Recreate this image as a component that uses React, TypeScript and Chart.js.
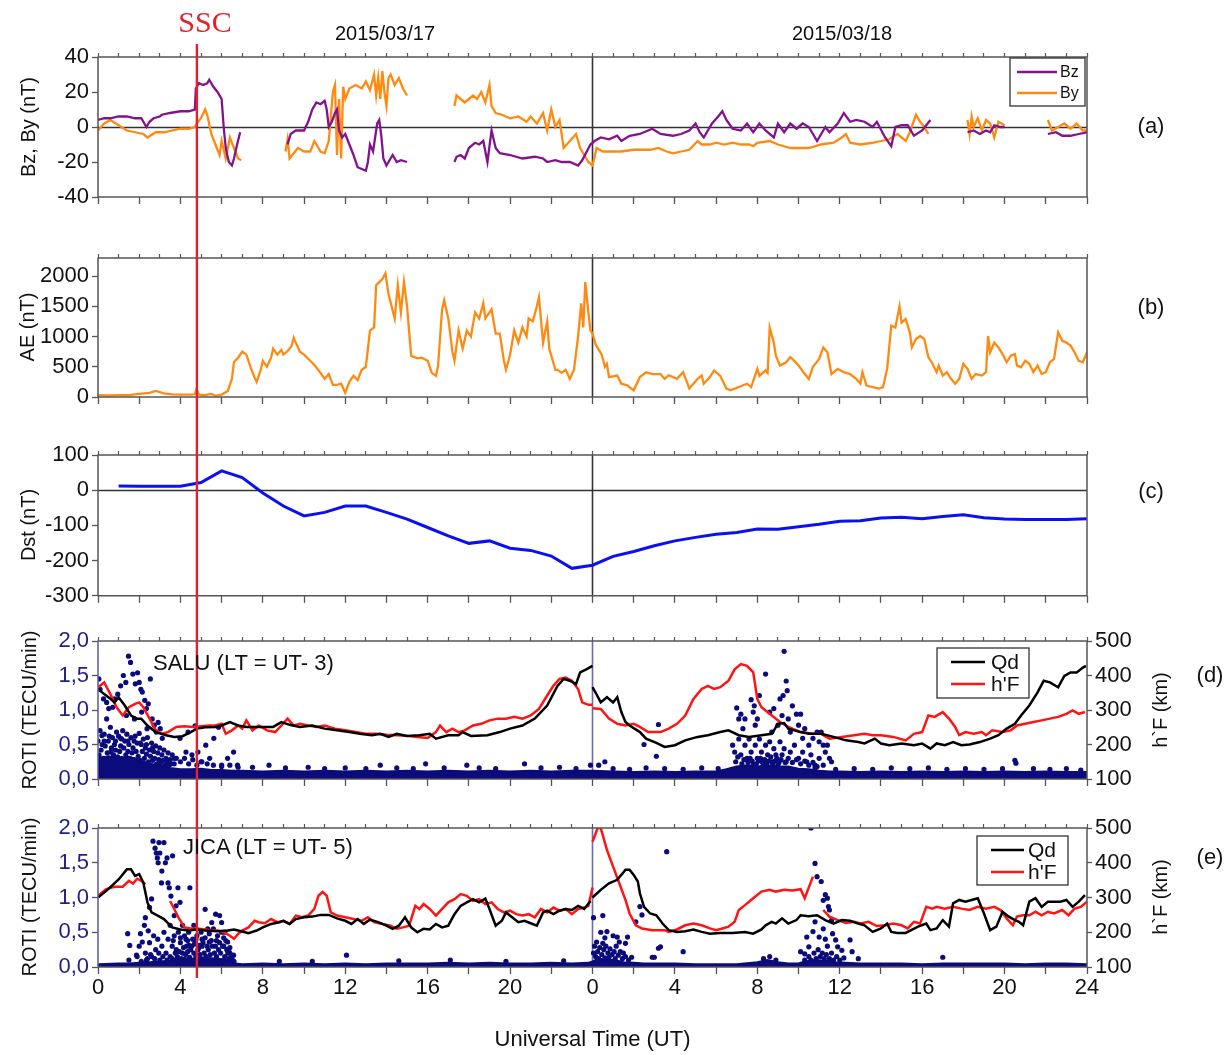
import React, { useEffect, useRef } from 'react';
import { Chart, registerables } from 'chart.js';

Chart.register(...registerables);

type P = [number, number | null];

const FONT = "'Liberation Sans', Arial, Helvetica, sans-serif";
Chart.defaults.font.family = FONT;

// ---------------- axis ticks / labels ----------------
const TOP_TICKS = Array.from({ length: 49 }, (_, i) => i);
const BOTTOM_TICKS = Array.from({ length: 25 }, (_, i) => i * 2);
const BZ_TICKS = [-40, -20, 0, 20, 40];
const AE_TICKS = [0, 500, 1000, 1500, 2000];
const DST_TICKS = [-300, -200, -100, 0, 100];
const ROTI_TICKS = [0, 0.5, 1, 1.5, 2];
const HF_TICKS = [100, 200, 300, 400, 500];
const DAY_SPLIT = 24;
const SSC_HOUR = 4.8;
const DATES = ['2015/03/17', '2015/03/18'];
const X_TITLE = 'Universal Time (UT)';

// ---------------- (a) IMF Bz, By (nT) ----------------
const BZ: P[] = [
  [0, 4], [0.3, 5], [0.6, 5], [1.0, 6], [1.4, 6], [1.8, 5], [2.1, 5], [2.35, 0], [2.5, 3], [2.7, 5], [3.0, 6], [3.1, 7], [3.5, 8], [4.0, 9], [4.4, 9], [4.7, 10],
  [4.75, 22], [4.9, 25], [5.1, 24], [5.3, 25], [5.4, 27], [5.6, 23], [5.8, 20], [6.0, 16], [6.1, 0], [6.2, -12], [6.35, -20], [6.5, -22], [6.6, -18], [6.75, -10], [6.9, -3],
  [7.5, null],
  [9.2, -10], [9.35, -4], [9.6, -2], [10.0, -2], [10.2, 3], [10.4, 10], [10.6, 14], [10.8, 13], [11.0, 15], [11.1, 10], [11.2, 0], [11.35, 3], [11.5, 8], [11.6, 10], [11.7, -2], [11.85, -6],
  [12.0, -4], [12.2, -10], [12.4, -16], [12.6, -23], [12.8, -24], [13.0, -25], [13.1, -20], [13.2, -10], [13.35, -14], [13.55, 2], [13.65, 4], [13.75, -5], [13.85, -18], [14.0, -22],
  [14.2, -18], [14.3, -16], [14.5, -20], [14.7, -19], [15.0, -20],
  [16.0, null],
  [17.3, -20], [17.4, -17], [17.6, -16], [17.8, -18], [18.0, -12], [18.3, -9], [18.5, -10], [18.7, -8], [18.9, -20], [19.1, -2], [19.3, -12], [19.5, -15], [20.0, -16], [20.6, -18],
  [21.2, -17], [21.6, -18], [21.8, -20], [22.2, -19], [22.5, -20], [22.9, -20], [23.3, -22], [23.5, -19], [23.9, -10], [24.1, -8],
  [24.4, -6], [24.8, -7], [25.2, -5], [25.4, -8], [25.8, -5], [26.3, -4], [26.9, -1], [27.3, -4], [27.9, -5], [28.3, -4], [28.7, -2], [29.0, 2], [29.2, -3], [29.4, -6], [29.8, 2],
  [30.1, 6], [30.3, 9], [30.5, 4], [30.8, -1], [31.2, -2], [31.5, 2], [31.8, -3], [32.1, 2], [32.4, -2], [32.8, -6], [33.0, 2], [33.3, -3], [33.6, 2], [33.9, -1], [34.2, 2], [34.5, 0],
  [34.9, -8], [35.3, 0], [35.5, -3], [35.9, 2], [36.2, 8], [36.5, 3], [36.8, 4], [37.2, 3], [37.6, 0], [37.8, 3], [38.2, -6], [38.5, -11], [38.7, 0], [39.0, 1], [39.3, 1], [39.6, -5],
  [40.0, -2], [40.2, 1], [40.4, 4],
  [41.0, null],
  [42.2, -3], [42.5, -2], [42.8, -4], [43.1, -2], [43.3, -3], [43.5, 1], [43.8, 0], [44.0, 0],
  [45.0, null],
  [46.1, -4], [46.5, -3], [46.8, -5], [47.2, -5], [47.6, -4], [48, -3],
];

const BY: P[] = [
  [0, -2], [0.3, 2], [0.6, 4], [1.0, 1], [1.4, -2], [1.8, -3], [2.2, -4], [2.4, -6], [2.8, -3], [3.2, -3], [3.6, -2], [4.0, -1], [4.4, -1], [4.7, 0], [4.8, 2], [5.0, 5], [5.2, 10],
  [5.3, 7], [5.5, -4], [5.7, -10], [5.9, -16], [6.0, -8], [6.2, -18], [6.4, -6], [6.6, -12], [6.8, -18], [6.95, -19],
  [7.5, null],
  [9.1, -14], [9.2, -7], [9.3, -18], [9.5, -15], [9.7, -12], [10.0, -14], [10.3, -14], [10.5, -8], [10.8, -14], [11.0, -15], [11.2, -8], [11.4, 20], [11.5, 24], [11.6, -16], [11.7, 16],
  [11.8, -18], [11.9, 23], [12.0, 16], [12.2, 22], [12.5, 24], [12.8, 22], [13.0, 26], [13.2, 21], [13.4, 30], [13.5, 18], [13.6, 28], [13.7, 16], [13.8, 32], [13.9, 20], [14.0, 12],
  [14.1, 28], [14.2, 30], [14.4, 24], [14.6, 28], [14.8, 22], [15.0, 18],
  [16.0, null],
  [17.3, 12], [17.4, 18], [17.6, 16], [17.8, 14], [18.0, 16], [18.2, 18], [18.4, 16], [18.6, 20], [18.8, 14], [19.0, 24], [19.1, 12], [19.3, 8], [19.6, 7], [20.0, 5], [20.4, 6],
  [20.8, 3], [21.0, 6], [21.3, 2], [21.6, 8], [21.8, -2], [22.0, 10], [22.2, 0], [22.4, 4], [22.6, -12], [22.9, -8], [23.2, -4], [23.4, -12], [23.6, -16], [23.8, -20], [24.0, -22],
  [24.2, -12], [24.5, -14], [24.8, -14], [25.4, -14], [26.0, -13], [26.8, -13], [27.2, -12], [27.6, -14], [27.9, -15], [28.3, -14], [28.7, -13], [29.1, -8], [29.3, -10], [29.7, -10],
  [30.0, -9], [30.4, -10], [30.8, -9], [31.2, -10], [31.6, -10], [31.8, -11], [32.0, -9], [32.6, -8], [33.0, -10], [33.6, -12], [34.0, -12], [34.5, -12], [35.1, -10], [35.7, -9],
  [36.1, -6], [36.3, -4], [36.5, -9], [37.0, -10], [37.6, -9], [38.0, -8], [38.4, -7], [38.8, -4], [39.2, -8], [39.4, -3], [39.7, 7], [39.9, 3], [40.1, 0], [40.3, -4],
  [41.0, null],
  [42.2, 4], [42.3, -4], [42.4, 6], [42.5, 0], [42.7, 5], [42.9, -2], [43.1, 4], [43.3, 2], [43.5, -6], [43.7, 3], [44.0, 1],
  [45.0, null],
  [46.1, 4], [46.3, -2], [46.6, 0], [46.9, 2], [47.2, -1], [47.5, 2], [47.8, -2], [48, -2],
];

// ---------------- (b) AE (nT) ----------------
const AE: P[] = [
  [0, 30], [0.5, 25], [1, 30], [1.5, 30], [2, 50], [2.5, 70], [2.8, 100], [3.2, 60], [3.6, 45], [4, 40], [4.5, 40], [4.7, 45], [4.78, 130], [4.9, 40], [5.2, 30], [5.5, 50],
  [5.7, 20], [6.0, 40], [6.3, 100], [6.5, 300], [6.6, 580], [6.8, 650], [7.0, 750], [7.2, 700], [7.4, 500], [7.6, 320], [7.7, 250], [7.9, 450], [8.0, 600], [8.2, 500], [8.4, 650],
  [8.5, 800], [8.7, 700], [8.9, 780], [9.0, 700], [9.2, 760], [9.4, 850], [9.5, 980], [9.6, 900], [9.8, 750], [10.0, 700], [10.3, 600], [10.5, 530], [10.8, 400], [11.0, 300],
  [11.2, 380], [11.4, 200], [11.6, 200], [11.8, 220], [12.0, 70], [12.2, 250], [12.4, 350], [12.6, 280], [12.8, 450], [13.0, 500], [13.2, 1100], [13.4, 1150], [13.5, 1850],
  [13.65, 1900], [13.8, 1950], [13.95, 2050], [14.1, 1700], [14.25, 1500], [14.4, 1300], [14.55, 1850], [14.7, 1400], [14.85, 1900], [15.0, 1500], [15.2, 680], [15.5, 640],
  [15.7, 650], [16.0, 600], [16.2, 400], [16.4, 350], [16.5, 500], [16.7, 1450], [16.8, 1600], [17.0, 1300], [17.2, 750], [17.3, 600], [17.5, 1100], [17.7, 800], [17.9, 1100],
  [18.1, 1000], [18.3, 1400], [18.5, 1300], [18.7, 1550], [18.8, 1300], [19.1, 1450], [19.3, 1050], [19.5, 1050], [19.7, 600], [19.8, 450], [20.0, 700], [20.2, 1100], [20.4, 900],
  [20.6, 1150], [20.8, 1000], [20.9, 1300], [21.1, 1250], [21.3, 1500], [21.4, 1650], [21.6, 900], [21.8, 1250], [21.9, 800], [22.2, 450], [22.3, 450], [22.5, 400], [22.7, 450],
  [22.9, 300], [23.1, 450], [23.3, 1000], [23.45, 1550], [23.55, 1150], [23.65, 1900], [23.8, 1400], [23.9, 1100], [24.0, 1050],
  [24.15, 870], [24.45, 700], [24.6, 500], [24.7, 550], [24.8, 330], [25.2, 355], [25.4, 220], [25.7, 190], [26.0, 110], [26.3, 330], [26.6, 410], [26.9, 380], [27.3, 380],
  [27.5, 300], [27.7, 360], [28.1, 300], [28.4, 410], [28.7, 140], [29.1, 300], [29.3, 355], [29.4, 220], [29.7, 330], [29.9, 440], [30.2, 350], [30.5, 140], [30.7, 110],
  [31.1, 165], [31.5, 220], [31.7, 165], [32.0, 465], [32.1, 350], [32.4, 440], [32.5, 400], [32.6, 1150], [32.8, 900], [32.9, 685], [33.1, 520], [33.4, 575], [33.6, 660],
  [33.7, 630], [34.0, 520], [34.3, 380], [34.5, 300], [34.7, 500], [35.0, 630], [35.2, 820], [35.4, 740], [35.6, 380], [35.9, 465], [36.2, 410], [36.5, 380], [36.8, 300],
  [37.0, 220], [37.1, 410], [37.3, 190], [37.6, 165], [37.9, 140], [38.1, 165], [38.3, 465], [38.5, 1180], [38.7, 1150], [38.9, 1500], [39.0, 1230], [39.2, 1290], [39.4, 1070],
  [39.5, 820], [39.7, 960], [39.9, 1010], [40.1, 960], [40.3, 660], [40.5, 550], [40.7, 410], [40.8, 520], [41.0, 355], [41.2, 410], [41.4, 300], [41.6, 220], [41.8, 300],
  [42.0, 550], [42.2, 465], [42.4, 300], [42.6, 380], [42.9, 355], [43.1, 410], [43.2, 1010], [43.3, 740], [43.5, 900], [43.7, 820], [43.9, 710], [44.1, 575], [44.3, 685],
  [44.5, 710], [44.6, 520], [44.8, 490], [45.0, 600], [45.2, 550], [45.4, 410], [45.6, 520], [45.8, 380], [46.0, 410], [46.2, 575], [46.4, 630], [46.6, 1070], [46.8, 930],
  [47.0, 900], [47.2, 850], [47.4, 740], [47.6, 600], [47.8, 575], [48.0, 740],
];

// ---------------- (c) Dst (nT) ----------------
const DST: P[] = [
  [1, 12], [2, 11], [3, 11], [4, 11], [5, 22], [6, 55], [7, 36], [8, -8], [9, -45], [10, -73], [11, -63], [12, -45], [13, -45], [14, -63], [15, -82], [16, -106], [17, -130],
  [18, -151], [19, -144], [20, -165], [21, -171], [22, -187], [23, -222], [24, -213], [25, -188], [26, -174], [27, -158], [28, -144], [29, -134], [30, -125], [31, -120],
  [32, -110], [33, -111], [34, -104], [35, -97], [36, -88], [37, -87], [38, -79], [39, -77], [40, -81], [41, -75], [42, -70], [43, -78], [44, -82], [45, -83], [46, -83],
  [47, -83], [48, -81],
];

// ---------------- (d) SALU ----------------
const QD_SALU: P[] = [
  [0, 361], [0.3, 346], [0.55, 335], [0.8, 322], [1.0, 337], [1.3, 313], [1.6, 284], [1.9, 275], [2.1, 275], [2.4, 255], [2.8, 236], [3.3, 227], [3.7, 222], [4.1, 224], [4.5, 236],
  [4.8, 246], [5.2, 250], [5.7, 251], [6.0, 255], [6.4, 265], [6.8, 255], [7.2, 251], [7.9, 251], [8.5, 251], [8.9, 265], [9.3, 257], [9.8, 251], [10.4, 255], [11.0, 246],
  [11.6, 241], [12.2, 236], [12.7, 231], [13.3, 227], [13.7, 231], [14.1, 222], [14.5, 231], [15.0, 225], [15.6, 227], [16.1, 231], [16.4, 217], [17.0, 227], [17.5, 227],
  [17.7, 236], [18.1, 225], [18.9, 227], [19.5, 236], [20.0, 246], [20.6, 255], [21.2, 275], [21.8, 313], [22.3, 370], [22.6, 390], [22.9, 385], [23.2, 375], [23.4, 409],
  [23.7, 418], [24.0, 428],
  [24.0, null],
  [24.0, 366], [24.2, 345], [24.4, 322], [24.7, 337], [25.0, 322], [25.2, 337], [25.4, 294], [25.6, 265], [25.8, 255], [26.3, 236], [26.6, 217], [27.1, 205], [27.5, 193],
  [28.0, 198], [28.5, 212], [29.1, 222], [29.6, 227], [30.2, 236], [30.6, 241], [31.1, 227], [31.6, 222], [32.2, 227], [32.7, 231], [33.0, 260], [33.3, 262], [33.5, 246],
  [34.1, 236], [34.5, 231], [35.1, 231], [35.7, 222], [36.3, 212], [36.9, 207], [37.2, 203], [37.7, 217], [38.0, 203], [38.4, 198], [39.0, 203], [39.6, 198], [40.0, 203],
  [40.4, 188], [40.7, 203], [41.1, 198], [41.5, 207], [41.9, 198], [42.3, 200], [42.8, 207], [43.3, 217], [43.7, 227], [44.1, 246], [44.5, 260], [44.8, 284], [45.2, 313],
  [45.6, 351], [45.9, 385], [46.2, 380], [46.6, 366], [46.9, 399], [47.2, 409], [47.5, 409], [47.8, 423], [47.95, 428],
];

const HF_SALU: P[] = [
  [0, 366], [0.3, 380], [0.6, 346], [0.9, 308], [1.2, 284], [1.5, 308], [1.8, 318], [2.0, 322], [2.2, 308], [2.5, 275], [2.8, 241], [3.1, 231], [3.4, 236], [3.8, 251], [4.2, 253],
  [4.6, 251], [5.0, 253], [5.4, 255], [5.7, 255], [6.0, 260], [6.2, 231], [6.5, 241], [6.8, 255], [7.0, 246], [7.2, 270], [7.5, 241], [7.8, 255], [8.2, 241], [8.6, 236],
  [8.9, 255], [9.2, 275], [9.5, 255], [9.8, 260], [10.2, 255], [10.6, 251], [11.0, 255], [11.5, 246], [12.0, 241], [12.5, 236], [13.0, 231], [13.5, 231], [14.0, 228],
  [14.5, 227], [15.0, 225], [15.5, 222], [16.0, 219], [16.4, 236], [16.6, 255], [16.9, 236], [17.2, 246], [17.5, 236], [17.8, 241], [18.2, 255], [18.6, 260], [19.0, 270],
  [19.4, 275], [19.8, 275], [20.2, 280], [20.6, 275], [21.0, 284], [21.4, 303], [21.8, 342], [22.1, 370], [22.4, 390], [22.7, 394], [23.0, 385], [23.3, 361], [23.5, 322],
  [23.8, 315], [24.0, 315],
  [24.0, null],
  [24.0, 305], [24.4, 303], [24.8, 275], [25.2, 260], [25.6, 255], [26.0, 260], [26.3, 251], [26.7, 236], [27.3, 236], [27.7, 246], [28.1, 260], [28.5, 284], [28.9, 332],
  [29.3, 361], [29.6, 370], [29.9, 361], [30.2, 366], [30.6, 385], [30.9, 418], [31.2, 433], [31.5, 428], [31.8, 409], [32.0, 332], [32.2, 308], [32.6, 289], [33.1, 265],
  [33.5, 251], [34.1, 236], [34.7, 231], [35.1, 231], [35.5, 217], [36.1, 222], [36.7, 227], [37.2, 231], [37.6, 227], [38.0, 227], [38.6, 222], [39.2, 212], [39.6, 231],
  [40.0, 236], [40.3, 284], [40.6, 280], [41.0, 294], [41.3, 275], [41.6, 251], [41.8, 227], [42.1, 236], [42.5, 231], [42.9, 236], [43.1, 227], [43.4, 241], [43.9, 236],
  [44.3, 241], [44.6, 255], [45.0, 260], [45.4, 265], [45.8, 270], [46.2, 275], [46.6, 280], [47.0, 289], [47.3, 299], [47.6, 289], [47.9, 294],
];

const ROTI_SALU_FLOOR: P[] = [
  [0, 0.3], [0.5, 0.33], [1.0, 0.3], [1.5, 0.32], [2.0, 0.28], [2.5, 0.22], [3.0, 0.2], [3.5, 0.16], [4.0, 0.14], [4.5, 0.14], [5.0, 0.15], [5.5, 0.13],
  [6.0, 0.13], [6.5, 0.12], [7.0, 0.12], [8, 0.11], [9, 0.12], [10, 0.11], [11, 0.12], [12, 0.11], [13, 0.12], [14, 0.11], [15, 0.12], [16, 0.11], [17, 0.12], [18, 0.11],
  [19, 0.12], [20, 0.11], [21, 0.12], [22, 0.11], [23, 0.12], [24, 0.12], [25, 0.11], [26, 0.1], [27, 0.11], [28, 0.1], [29, 0.11], [30, 0.11], [30.5, 0.14], [31, 0.18],
  [31.5, 0.2], [32, 0.18], [32.5, 0.2], [33, 0.18], [33.5, 0.18], [34, 0.15], [34.5, 0.14], [35, 0.12], [35.5, 0.11], [36, 0.11], [37, 0.1], [38, 0.11], [39, 0.1], [40, 0.11],
  [41, 0.1], [42, 0.11], [43, 0.1], [44, 0.11], [45, 0.1], [46, 0.11], [47, 0.1], [48, 0.1],
];

const ROTI_SALU: P[] = [
  [0.04, 1.45], [0.1, 1.3], [0.27, 1.16], [0.42, 0.87], [0.42, 1.11], [0.52, 1.02], [0.71, 1.04], [0.81, 1.16], [0.96, 1.23], [1.1, 1.35], [1.23, 1.5], [1.35, 1.4], [1.48, 1.78],
  [1.58, 1.69], [1.69, 1.52], [1.81, 1.38], [1.92, 1.54], [2.0, 1.4], [2.08, 1.3], [2.15, 1.26], [2.27, 1.14], [2.35, 1.02], [2.44, 1.09], [2.54, 1.45], [2.63, 0.87], [2.73, 0.78],
  [2.83, 0.68], [2.92, 0.82], [3.02, 0.73], [3.12, 0.59], [0.19, 0.63], [0.62, 0.39], [1.1, 0.59], [1.38, 0.92], [1.77, 0.87], [2.12, 0.97], [2.38, 0.73],
  [0.1, 0.7], [0.2, 0.5], [0.3, 0.65], [0.5, 0.55], [0.6, 0.75], [0.7, 0.6], [0.8, 0.5], [0.9, 0.68], [1.0, 0.62], [1.1, 0.48], [1.2, 0.7], [1.3, 0.55], [1.4, 0.65], [1.5, 0.5],
  [1.6, 0.6], [1.7, 0.45], [1.8, 0.62], [1.9, 0.52], [2.0, 0.66], [2.1, 0.5], [2.2, 0.58], [2.3, 0.45], [2.4, 0.6], [2.5, 0.42], [2.6, 0.52], [2.7, 0.4], [2.8, 0.48], [2.9, 0.38],
  [3.0, 0.45], [3.1, 0.35], [3.2, 0.42], [3.3, 0.3], [3.4, 0.38], [3.5, 0.28], [3.6, 0.35], [3.7, 0.22], [3.8, 0.3], [4.0, 0.25], [4.2, 0.3], [4.4, 0.22], [4.6, 0.28], [4.8, 0.2],
  [5.0, 0.25], [5.3, 0.22], [5.6, 0.2], [6.0, 0.18], [6.4, 0.2], [6.8, 0.17],
  [0.05, 0.35], [0.15, 0.42], [0.25, 0.3], [0.35, 0.48], [0.45, 0.38], [0.55, 0.3], [0.65, 0.45], [0.75, 0.35], [0.85, 0.42], [0.95, 0.32], [1.05, 0.4], [1.15, 0.3],
  [1.25, 0.45], [1.35, 0.35], [1.45, 0.4], [1.55, 0.3], [1.65, 0.38], [1.75, 0.28], [1.85, 0.4], [1.95, 0.33], [2.05, 0.27], [2.15, 0.4], [2.25, 0.3], [2.35, 0.36],
  [2.45, 0.25], [2.55, 0.33], [2.65, 0.27], [2.75, 0.3], [2.85, 0.22], [2.95, 0.28], [3.05, 0.24], [3.15, 0.27], [3.25, 0.2], [3.35, 0.25], [3.45, 0.2], [3.55, 0.22],
  [0.0, 0.55], [0.3, 0.55], [0.55, 0.62], [0.85, 0.55], [1.15, 0.58], [1.45, 0.55], [1.75, 0.55], [2.05, 0.52], [2.35, 0.5], [2.65, 0.45],
  [3.7, 0.3], [3.98, 0.59], [4.37, 0.68], [4.71, 0.77], [4.85, 0.39], [5.23, 0.49], [5.62, 0.59], [5.85, 0.75], [6.29, 0.3], [6.58, 0.39], [6.77, 0.2], [4.27, 0.39],
  [4.56, 0.35], [5.04, 0.25], [5.42, 0.3], [6.0, 0.2],
  [7.5, 0.17], [8.3, 0.2], [9.1, 0.16], [10.2, 0.17], [11.0, 0.15], [12.0, 0.16], [13.0, 0.15], [13.7, 0.2], [14.5, 0.16], [15.3, 0.15], [15.9, 0.22], [16.8, 0.16], [17.9, 0.2],
  [18.5, 0.16], [19.3, 0.15], [20.7, 0.22], [21.5, 0.16], [22.4, 0.17], [23.2, 0.15], [23.9, 0.2],
  [24.3, 0.2], [24.6, 0.25], [25.0, 0.15], [25.8, 0.14], [26.5, 0.5], [27.1, 0.33], [27.2, 0.79], [26.6, 0.16], [27.5, 0.15], [28.4, 0.14], [29.3, 0.16], [30.1, 0.15],
  [31.0, 1.03], [31.1, 0.87], [31.2, 0.94], [31.3, 0.73], [31.4, 0.87], [31.7, 1.15], [31.8, 0.97], [31.85, 1.06], [31.9, 0.78], [32.0, 0.87], [32.1, 1.21], [32.4, 1.52],
  [32.6, 0.97], [32.7, 0.68], [32.8, 1.02], [33.0, 0.78], [33.1, 1.16], [33.2, 0.92], [33.25, 1.21], [33.3, 1.85], [33.4, 1.42], [33.45, 1.28], [33.5, 0.87], [33.6, 0.68],
  [33.7, 1.06], [33.9, 0.94], [34.0, 0.78], [34.1, 0.94], [34.2, 0.59], [34.3, 0.73], [34.5, 0.49], [34.7, 0.59], [34.9, 0.68], [35.0, 0.54], [35.1, 0.68], [35.2, 0.49],
  [35.3, 0.39], [35.4, 0.49], [35.5, 0.3], [35.6, 0.25],
  [30.8, 0.49], [30.9, 0.39], [31.1, 0.58], [31.2, 0.35], [31.4, 0.49], [31.5, 0.3], [31.6, 0.58], [31.7, 0.39], [31.8, 0.2], [31.9, 0.49], [32.0, 0.3], [32.1, 0.58],
  [32.2, 0.39], [32.3, 0.2], [32.4, 0.49], [32.5, 0.35], [32.6, 0.54], [32.7, 0.25], [32.8, 0.44], [32.9, 0.35], [33.0, 0.2], [33.1, 0.54], [33.2, 0.35], [33.3, 0.44],
  [33.4, 0.25], [33.6, 0.39], [33.8, 0.49], [34.0, 0.3], [34.2, 0.39], [34.4, 0.25], [34.6, 0.35], [34.8, 0.2], [35.0, 0.3],
  [30.95, 0.25], [31.05, 0.32], [31.25, 0.22], [31.35, 0.28], [31.55, 0.24], [31.65, 0.3], [31.75, 0.26], [31.95, 0.22], [32.05, 0.26], [32.15, 0.3], [32.25, 0.24],
  [32.35, 0.28], [32.45, 0.22], [32.55, 0.26], [32.65, 0.32], [32.75, 0.22], [32.85, 0.26], [32.95, 0.3], [33.05, 0.24], [33.15, 0.28], [33.35, 0.24], [33.5, 0.3],
  [33.7, 0.24], [33.9, 0.28], [34.1, 0.22], [34.3, 0.26], [34.5, 0.2], [34.7, 0.24], [34.9, 0.18], [35.2, 0.2],
  [34.8, 0.16], [35.8, 0.14], [36.7, 0.15], [37.6, 0.14], [38.5, 0.16], [39.4, 0.15], [40.3, 0.16], [41.2, 0.14], [42.1, 0.15], [43.0, 0.14], [43.9, 0.15], [44.5, 0.27],
  [44.55, 0.23], [45.4, 0.15], [46.2, 0.14], [47.0, 0.15], [47.7, 0.13],
];

// ---------------- (e) JICA ----------------
const QD_JICA: P[] = [
  [0, 300], [0.5, 324], [1.0, 352], [1.4, 381], [1.6, 381], [1.8, 362], [2.0, 367], [2.2, 343], [2.4, 286], [2.6, 257], [2.9, 248], [3.2, 238], [3.6, 214], [4.0, 208], [4.4, 205],
  [4.8, 208], [5.2, 205], [5.8, 203], [6.3, 205], [6.6, 208], [7.0, 202], [7.3, 197], [7.7, 205], [8.0, 214], [8.4, 224], [8.8, 229], [9.0, 233], [9.3, 224], [9.6, 238],
  [10.0, 243], [10.4, 245], [10.8, 250], [11.2, 250], [11.6, 240], [12.0, 233], [12.3, 224], [12.6, 238], [12.9, 224], [13.2, 236], [13.6, 229], [14.0, 219], [14.3, 210],
  [14.6, 219], [14.9, 243], [15.2, 214], [15.5, 200], [15.8, 210], [16.1, 208], [16.4, 224], [16.7, 214], [17.0, 219], [17.3, 252], [17.6, 276], [17.9, 286], [18.2, 295],
  [18.5, 286], [18.8, 297], [19.0, 267], [19.3, 219], [19.6, 233], [19.8, 257], [20.1, 243], [20.4, 229], [20.7, 233], [21.0, 226], [21.3, 219], [21.6, 257], [21.8, 262],
  [22.1, 252], [22.4, 262], [22.7, 267], [23.0, 264], [23.3, 276], [23.6, 267], [23.9, 290],
  [24.0, null],
  [24.0, 300], [24.4, 322], [24.8, 341], [25.2, 351], [25.4, 365], [25.6, 380], [25.8, 380], [26.0, 365], [26.2, 346], [26.3, 312], [26.5, 273], [26.8, 254], [27.1, 249],
  [27.4, 225], [27.7, 206], [28.1, 201], [28.5, 203], [28.9, 208], [29.3, 201], [29.7, 196], [30.2, 198], [30.8, 198], [31.4, 201], [31.8, 196], [32.2, 208], [32.4, 220],
  [32.7, 230], [32.9, 225], [33.2, 240], [33.5, 225], [33.9, 235], [34.1, 249], [34.5, 246], [34.9, 249], [35.3, 235], [35.7, 225], [36.1, 235], [36.5, 233], [36.9, 225],
  [37.2, 220], [37.6, 201], [38.0, 211], [38.3, 225], [38.5, 201], [38.8, 198], [39.2, 198], [39.8, 216], [40.2, 225], [40.4, 206], [40.7, 211], [41.0, 235], [41.3, 216],
  [41.5, 283], [41.8, 293], [42.1, 288], [42.4, 293], [42.7, 298], [43.0, 254], [43.3, 206], [43.6, 216], [43.9, 259], [44.2, 245], [44.5, 235], [44.7, 230], [44.9, 220],
  [45.2, 288], [45.5, 298], [45.8, 273], [46.1, 288], [46.4, 288], [46.7, 288], [47.0, 293], [47.3, 273], [47.6, 288], [47.9, 307],
];

const HF_JICA: P[] = [
  [0, 305], [0.4, 324], [0.8, 331], [1.2, 331], [1.5, 348], [1.7, 340], [1.9, 354], [2.1, 348], [2.3, 338],
  [2.9, null],
  [3.5, 290], [3.7, 267], [3.9, 243], [4.2, 214], [4.5, 211], [4.8, 211], [5.2, 208], [5.5, 205], [5.8, 205], [6.1, 200], [6.4, 190], [6.6, 181], [6.8, 195], [7.0, 205],
  [7.3, 214], [7.6, 233], [7.8, 229], [8.1, 226], [8.4, 238], [8.7, 229], [9.0, 233], [9.3, 224], [9.6, 248], [9.9, 243], [10.2, 248], [10.5, 267], [10.7, 305], [10.9, 316],
  [11.1, 305], [11.3, 257], [11.6, 248], [12.0, 243], [12.4, 238], [12.8, 233], [13.1, 243], [13.4, 229], [13.8, 224], [14.2, 219], [14.5, 210], [14.8, 214], [15.1, 219],
  [15.4, 276], [15.6, 267], [15.8, 281], [16.1, 267], [16.4, 248], [16.7, 267], [17.0, 286], [17.3, 295], [17.6, 310], [17.9, 305], [18.2, 290], [18.5, 295], [18.8, 281],
  [19.1, 286], [19.4, 267], [19.7, 257], [20.0, 262], [20.3, 252], [20.6, 248], [20.9, 252], [21.2, 243], [21.5, 267], [21.8, 257], [22.1, 271], [22.4, 262], [22.7, 267],
  [23.0, 252], [23.3, 267], [23.6, 271], [23.8, 276], [24.0, 329],
  [24.0, null],
  [24.0, 460], [24.25, 500], [24.4, 500], [24.7, 437], [25.0, 389], [25.3, 341], [25.6, 293], [25.8, 254], [26.1, 220], [26.4, 211], [26.9, 206], [27.5, 206], [27.7, 201],
  [28.1, 208], [28.5, 220], [28.9, 225], [29.3, 220], [29.7, 211], [30.0, 206], [30.3, 211], [30.6, 216], [30.9, 230], [31.1, 264], [31.4, 278], [31.8, 298], [32.2, 317],
  [32.6, 322], [32.9, 317], [33.3, 322], [33.7, 320], [34.1, 324], [34.3, 298], [34.7, 360],
  [35.0, null],
  [35.2, 264], [35.5, 245], [35.9, 235], [36.3, 227], [36.7, 230], [37.0, 225], [37.4, 230], [37.8, 218], [38.2, 220], [38.6, 225], [39.0, 220], [39.3, 211], [39.6, 230],
  [39.9, 225], [40.2, 273], [40.5, 268], [40.7, 273], [41.1, 268], [41.5, 273], [41.9, 268], [42.3, 264], [42.7, 273], [43.1, 268], [43.5, 273], [43.8, 264], [44.1, 240],
  [44.4, 220], [44.6, 245], [44.9, 249], [45.2, 249], [45.5, 259], [45.8, 249], [46.1, 259], [46.4, 254], [46.8, 264], [47.1, 249], [47.4, 268], [47.7, 273], [48.0, 288],
];

const ROTI_JICA_FLOOR: P[] = [
  [0, 0.04], [1, 0.05], [1.5, 0.05], [2, 0.06], [2.5, 0.07], [3, 0.08], [3.5, 0.09], [3.8, 0.12], [4.2, 0.13], [4.6, 0.12], [5.0, 0.14], [5.4, 0.13], [5.8, 0.12],
  [6.1, 0.11], [6.4, 0.08], [6.7, 0.05], [7, 0.04], [8, 0.05], [9, 0.04], [10, 0.05], [11, 0.04], [12, 0.05], [13, 0.04], [14, 0.05], [15, 0.05], [16, 0.05], [17, 0.06],
  [18, 0.05], [19, 0.06], [20, 0.05], [21, 0.05], [22, 0.06], [23, 0.05], [23.8, 0.06], [24, 0.08], [24.3, 0.12], [24.7, 0.1], [25.1, 0.1], [25.5, 0.07], [26, 0.06],
  [26.5, 0.05], [27, 0.05], [28, 0.05], [29, 0.04], [30, 0.04], [31, 0.04], [32, 0.07], [32.5, 0.1], [33, 0.07], [33.5, 0.05], [34, 0.05], [34.3, 0.08], [34.8, 0.1],
  [35.3, 0.09], [35.8, 0.07], [36.3, 0.06], [37, 0.05], [38, 0.05], [39, 0.05], [40, 0.04], [41, 0.05], [42, 0.05], [43, 0.05], [44, 0.05], [45, 0.04], [46, 0.05],
  [47, 0.05], [48, 0.04],
];

const ROTI_JICA: P[] = [
  [1.44, 0.48], [1.54, 0.31], [1.87, 0.17], [2.06, 0.48], [2.15, 0.36], [2.25, 0.6], [2.3, 0.71], [2.4, 0.12], [2.44, 0.52], [2.5, 0.86], [2.6, 0.98], [2.67, 1.81], [2.77, 1.71],
  [2.83, 1.64], [2.88, 1.57], [2.92, 1.5], [2.96, 1.79], [3.0, 1.64], [3.08, 1.21], [3.1, 1.38], [3.2, 1.79], [3.27, 1.5], [3.35, 1.57], [3.4, 1.21], [3.46, 1.14], [3.54, 1.02],
  [3.62, 1.6], [3.7, 0.74], [3.79, 0.88], [3.88, 1.14], [3.98, 0.93], [4.1, 0.6], [4.27, 0.4], [4.42, 0.31], [4.46, 1.14], [4.65, 0.6], [4.75, 0.4], [4.94, 0.31], [5.2, 0.83],
  [5.33, 0.55], [5.52, 0.64], [5.71, 0.76], [5.9, 0.74], [6.0, 0.64], [6.15, 0.5], [6.29, 0.36], [6.38, 0.21], [6.58, 0.17], [12.06, 0.17],
  [1.5, 0.1], [1.9, 0.15], [2.0, 0.3], [2.1, 0.08], [2.3, 0.2], [2.5, 0.35], [2.6, 0.15], [2.7, 0.45], [2.8, 0.25], [2.9, 0.4], [3.0, 0.1], [3.1, 0.3], [3.2, 0.5], [3.3, 0.2],
  [3.4, 0.4], [3.5, 0.6], [3.6, 0.3], [3.7, 0.45], [3.8, 0.25], [3.9, 0.5], [4.0, 0.35], [4.1, 0.2], [4.2, 0.45], [4.3, 0.3], [4.4, 0.5], [4.5, 0.25], [4.6, 0.4], [4.7, 0.33],
  [4.8, 0.45], [4.9, 0.28], [5.0, 0.5], [5.1, 0.35], [5.2, 0.42], [5.3, 0.3], [5.4, 0.48], [5.5, 0.38], [5.6, 0.55], [5.7, 0.3], [5.8, 0.45], [5.9, 0.35], [6.0, 0.5],
  [6.1, 0.3], [6.2, 0.38], [6.3, 0.2], [6.4, 0.28], [6.5, 0.12], [6.6, 0.08],
  [3.6, 0.12], [3.75, 0.2], [3.85, 0.15], [3.95, 0.22], [4.05, 0.12], [4.15, 0.28], [4.25, 0.18], [4.35, 0.22], [4.45, 0.14], [4.55, 0.3], [4.65, 0.2], [4.75, 0.15],
  [4.85, 0.25], [4.95, 0.18], [5.05, 0.3], [5.15, 0.2], [5.25, 0.15], [5.35, 0.25], [5.45, 0.18], [5.55, 0.3], [5.65, 0.2], [5.75, 0.15], [5.85, 0.25], [5.95, 0.2],
  [6.05, 0.3], [6.15, 0.15], [6.25, 0.25], [6.35, 0.12], [6.45, 0.18], [3.65, 0.38], [4.0, 0.42], [4.35, 0.38], [4.7, 0.35], [5.05, 0.4], [5.4, 0.36], [5.75, 0.38],
  [6.1, 0.42], [2.35, 0.1], [2.55, 0.18], [2.75, 0.12], [2.95, 0.2], [3.15, 0.15], [3.35, 0.1], [3.5, 0.15],
  [8.8, 0.08], [10.4, 0.08], [14.6, 0.09], [17.1, 0.1], [19.8, 0.08], [22.6, 0.09],
  [24.05, 0.71], [24.5, 0.74], [24.2, 0.36], [24.4, 0.5], [24.6, 0.42], [25.0, 0.45], [24.7, 0.51], [24.5, 0.34], [25.2, 0.43], [25.3, 0.36], [25.6, 0.34], [25.7, 0.43],
  [26.3, 0.87], [26.4, 0.75], [26.1, 0.65], [27.2, 0.27], [27.0, 0.14], [27.6, 1.66], [27.3, 0.29], [26.9, 0.14], [28.4, 0.22],
  [24.05, 0.2], [24.1, 0.3], [24.15, 0.15], [24.25, 0.22], [24.3, 0.12], [24.35, 0.28], [24.45, 0.18], [24.55, 0.25], [24.6, 0.13], [24.65, 0.3], [24.75, 0.2], [24.8, 0.14],
  [24.85, 0.26], [24.95, 0.18], [25.05, 0.22], [25.1, 0.12], [25.15, 0.3], [25.25, 0.17], [25.35, 0.22], [25.45, 0.12], [25.5, 0.2], [25.6, 0.15], [25.75, 0.1], [25.9, 0.14],
  [32.3, 0.12], [32.6, 0.15], [32.9, 0.1],
  [34.6, 2.0], [34.8, 1.49], [34.9, 1.3], [35.1, 1.23], [35.2, 0.96], [35.3, 1.04], [35.4, 0.99], [35.45, 0.87], [35.5, 0.82], [34.4, 0.43], [34.5, 0.29], [34.7, 0.51],
  [34.8, 0.65], [35.0, 0.43], [35.2, 0.55], [35.3, 0.4], [35.4, 0.3], [35.6, 0.67], [35.65, 0.48], [35.8, 0.39], [35.9, 0.29], [36.1, 0.24], [36.5, 0.39], [36.6, 0.22],
  [36.9, 0.12], [34.3, 0.19], [34.1, 0.22], [41.0, 0.14],
  [34.3, 0.1], [34.5, 0.15], [34.6, 0.1], [34.75, 0.2], [34.85, 0.12], [34.95, 0.25], [35.05, 0.15], [35.15, 0.2], [35.25, 0.12], [35.35, 0.18], [35.5, 0.12], [35.6, 0.2],
  [35.7, 0.1], [35.85, 0.15], [36.0, 0.1], [36.2, 0.13],
];

// ---------------- colours ----------------
const PURPLE = '#84128e';
const ORANGE = '#ff8a12';
const DST_BLUE = '#0a10f2';
const NAVY = '#0b0b7c';
const NAVY_AXIS = '#1f1f86';
const LINE_RED = '#ff1414';
const SSC_RED = '#e3202c';
const FRAME = '#555555';

const xy = (arr: P[]) => arr.map(([x, y]) => ({ x, y }));
const fmtHour = (v: number) => (v % 4 !== 0 ? '' : String(v < DAY_SPLIT ? v : v - DAY_SPLIT));
const fmtComma = (v: number) => v.toFixed(1).replace('.', ',');

interface LegendSpec {
  items: { label: string; color: string }[];
  x: number; y: number; w: number; h: number; rows: number[]; l0: number; l1: number; tx: number; size: number;
}
interface Deco {
  zero?: boolean;
  leftColor: string;
  dividerColor: string;
  sscTop: number;
  sscToAxis?: boolean;
  legend?: LegendSpec;
}

function decoPlugin(d: Deco) {
  return {
    id: 'deco',
    beforeDatasetsDraw(chart: any) {
      const { ctx, chartArea: a, scales } = chart;
      ctx.save();
      if (d.zero) {
        const y = Math.round(scales.y.getPixelForValue(0)) + 0.5;
        ctx.strokeStyle = '#333';
        ctx.lineWidth = 1.3;
        ctx.beginPath(); ctx.moveTo(a.left, y); ctx.lineTo(a.right, y); ctx.stroke();
      }
      const xd = scales.x.getPixelForValue(DAY_SPLIT);
      ctx.strokeStyle = d.dividerColor;
      ctx.lineWidth = 1.6;
      ctx.beginPath(); ctx.moveTo(xd, a.top); ctx.lineTo(xd, a.bottom); ctx.stroke();
      ctx.restore();
    },
    afterDatasetsDraw(chart: any) {
      const { ctx, chartArea: a, scales, height } = chart;
      ctx.save();
      ctx.lineWidth = 1.5;
      ctx.strokeStyle = FRAME;
      ctx.beginPath();
      ctx.moveTo(a.left, a.top); ctx.lineTo(a.right, a.top); ctx.lineTo(a.right, a.bottom); ctx.lineTo(a.left, a.bottom);
      ctx.stroke();
      ctx.strokeStyle = d.leftColor;
      ctx.beginPath(); ctx.moveTo(a.left, a.top - 0.5); ctx.lineTo(a.left, a.bottom + 0.5); ctx.stroke();

      if (d.legend) {
        const L = d.legend;
        const bx = a.right + L.x;
        const by = a.top + L.y;
        ctx.fillStyle = '#fff';
        ctx.fillRect(bx, by, L.w, L.h);
        ctx.strokeStyle = '#333';
        ctx.lineWidth = 1.3;
        ctx.strokeRect(bx, by, L.w, L.h);
        L.items.forEach((it, i) => {
          const yy = by + L.rows[i];
          ctx.strokeStyle = it.color;
          ctx.lineWidth = 2.6;
          ctx.beginPath(); ctx.moveTo(bx + L.l0, yy); ctx.lineTo(bx + L.l1, yy); ctx.stroke();
          ctx.fillStyle = '#111';
          ctx.font = `${L.size}px ${FONT}`;
          ctx.textAlign = 'left';
          ctx.textBaseline = 'middle';
          ctx.fillText(it.label, bx + L.tx, yy + 1);
        });
      }

      const xs = scales.x.getPixelForValue(SSC_HOUR);
      ctx.strokeStyle = SSC_RED;
      ctx.lineWidth = 2.4;
      ctx.beginPath();
      ctx.moveTo(xs, d.sscTop);
      ctx.lineTo(xs, d.sscToAxis ? a.bottom + 11 : height);
      ctx.stroke();
      ctx.restore();
    },
  };
}

function xAxes(showLabels: boolean, bottomH: number) {
  return {
    x: {
      type: 'linear', position: 'bottom', min: 0, max: 48,
      afterBuildTicks: (s: any) => { s.ticks = BOTTOM_TICKS.map((v) => ({ value: v })); },
      afterFit: (s: any) => { s.height = bottomH; },
      ticks: {
        display: showLabels, autoSkip: false, maxRotation: 0, minRotation: 0, padding: 1, color: '#111',
        font: { size: 22, family: FONT }, callback: (v: any) => fmtHour(Number(v)),
      },
      grid: { drawOnChartArea: false, drawTicks: true, tickLength: 7, tickColor: FRAME, tickWidth: 1.3 },
      border: { display: false },
      title: showLabels
        ? { display: true, text: X_TITLE, color: '#111', font: { size: 22, family: FONT }, padding: { top: 0, bottom: 2 } }
        : { display: false },
    },
    xTop: {
      type: 'linear', position: 'top', min: 0, max: 48,
      afterBuildTicks: (s: any) => { s.ticks = TOP_TICKS.map((v) => ({ value: v })); },
      afterFit: (s: any) => { s.height = 0; },
      ticks: { display: false },
      grid: { drawOnChartArea: false, drawTicks: true, tickLength: 4, tickColor: FRAME, tickWidth: 1.2 },
      border: { display: false },
    },
  };
}

function yAxis(pos: 'left' | 'right', min: number, max: number, ticks: number[], color: string, fmt?: (v: number) => string) {
  return {
    type: 'linear', position: pos, min, max,
    afterBuildTicks: (s: any) => { s.ticks = ticks.map((v) => ({ value: v })); },
    afterFit: (s: any) => { s.width = pos === 'left' ? 98 : 143; },
    ticks: { color, font: { size: 22, family: FONT }, padding: 3, callback: (v: any) => (fmt ? fmt(Number(v)) : String(v)) },
    grid: { drawOnChartArea: false, drawTicks: true, tickLength: pos === 'left' ? 6 : 5, tickColor: FRAME, tickWidth: 1.3 },
    border: { display: false },
  };
}

const lineDs = (data: P[], color: string, width: number, yAxisID = 'y') => ({
  type: 'line', data: xy(data), borderColor: color, backgroundColor: color, borderWidth: width,
  pointRadius: 0, spanGaps: false, fill: false, tension: 0, xAxisID: 'x', yAxisID, order: 1,
});
const dotsDs = (data: P[]) => ({
  type: 'line', data: xy(data), showLine: false, pointRadius: 2.6, pointStyle: 'circle',
  pointBackgroundColor: NAVY, pointBorderWidth: 0, borderColor: NAVY, xAxisID: 'x', yAxisID: 'y', order: 2,
});
const floorDs = (data: P[]) => ({
  type: 'line', data: xy(data), borderColor: NAVY, backgroundColor: NAVY, borderWidth: 2, pointRadius: 0,
  fill: 'origin', tension: 0, xAxisID: 'x', yAxisID: 'y', order: 3,
});

interface Panel {
  top: number; height: number; padTop: number; padBottom: number; padRight: number; bottomH: number; showX: boolean;
  scales: any; datasets: any[]; deco: Deco;
}

const PANELS: Panel[] = [
  {
    top: 0, height: 228, padTop: 57, padBottom: 31, padRight: 143, bottomH: 0, showX: false,
    scales: { y: yAxis('left', -40, 40, BZ_TICKS, '#111') },
    datasets: [lineDs(BZ, PURPLE, 2.3), lineDs(BY, ORANGE, 2.3)],
    deco: {
      zero: true, leftColor: FRAME, dividerColor: '#333', sscTop: 44,
      legend: {
        items: [{ label: 'Bz', color: PURPLE }, { label: 'By', color: ORANGE }],
        x: -77, y: 1, w: 75, h: 48, rows: [14, 35], l0: 7, l1: 47, tx: 50, size: 16,
      },
    },
  },
  {
    top: 228, height: 198, padTop: 30, padBottom: 29, padRight: 143, bottomH: 0, showX: false,
    scales: { y: yAxis('left', 0, 2300, AE_TICKS, '#111') },
    datasets: [lineDs(AE, ORANGE, 2.3)],
    deco: { leftColor: FRAME, dividerColor: '#333', sscTop: 0 },
  },
  {
    top: 426, height: 186, padTop: 29, padBottom: 16, padRight: 143, bottomH: 0, showX: false,
    scales: { y: yAxis('left', -300, 100, DST_TICKS, '#111') },
    datasets: [lineDs(DST, DST_BLUE, 3)],
    deco: { zero: true, leftColor: FRAME, dividerColor: '#333', sscTop: 0 },
  },
  {
    top: 612, height: 185, padTop: 29, padBottom: 18, padRight: 0, bottomH: 0, showX: false,
    scales: {
      y: yAxis('left', 0, 2, ROTI_TICKS, NAVY_AXIS, fmtComma),
      y2: yAxis('right', 100, 500, HF_TICKS, '#111'),
    },
    datasets: [lineDs(QD_SALU, '#000', 2.5, 'y2'), lineDs(HF_SALU, LINE_RED, 2.5, 'y2'), dotsDs(ROTI_SALU), floorDs(ROTI_SALU_FLOOR)],
    deco: {
      leftColor: '#5a5aa6', dividerColor: '#6a6ab0', sscTop: 0,
      legend: {
        items: [{ label: 'Qd', color: '#000' }, { label: "h'F", color: LINE_RED }],
        x: -150, y: 7, w: 92, h: 50, rows: [14, 36], l0: 14, l1: 48, tx: 54, size: 21,
      },
    },
  },
  {
    top: 797, height: 258, padTop: 31, padBottom: 0, padRight: 0, bottomH: 88, showX: true,
    scales: {
      y: yAxis('left', 0, 2, ROTI_TICKS, NAVY_AXIS, fmtComma),
      y2: yAxis('right', 100, 500, HF_TICKS, '#111'),
    },
    datasets: [lineDs(QD_JICA, '#000', 2.5, 'y2'), lineDs(HF_JICA, LINE_RED, 2.5, 'y2'), dotsDs(ROTI_JICA), floorDs(ROTI_JICA_FLOOR)],
    deco: {
      leftColor: '#5a5aa6', dividerColor: '#6a6ab0', sscTop: 0, sscToAxis: true,
      legend: {
        items: [{ label: 'Qd', color: '#000' }, { label: "h'F", color: LINE_RED }],
        x: -110, y: 8, w: 91, h: 49, rows: [14, 36], l0: 14, l1: 47, tx: 51, size: 21,
      },
    },
  },
];

function build(p: Panel) {
  return {
    type: 'line',
    data: { datasets: p.datasets },
    options: {
      responsive: false,
      animation: false,
      events: [],
      layout: { padding: { top: p.padTop, bottom: p.padBottom, left: 0, right: p.padRight } },
      plugins: { legend: { display: false }, tooltip: { enabled: false }, title: { display: false } },
      scales: { ...xAxes(p.showX, p.bottomH), ...p.scales },
    },
    plugins: [decoPlugin(p.deco)],
  } as any;
}

const Txt = (props: { x: number; y: number; size: number; text: string; color?: string; rotate?: number; family?: string; left?: boolean }) => (
  <div
    style={{
      position: 'absolute', left: props.x, top: props.y,
      transform: `translate(${props.left ? '0' : '-50%'}, -50%) rotate(${props.rotate || 0}deg)`,
      fontSize: props.size, fontFamily: props.family || FONT, color: props.color || '#111',
      whiteSpace: 'nowrap', lineHeight: 1,
    }}
  >
    {props.text}
  </div>
);

export default function App() {
  const refs = useRef<(HTMLCanvasElement | null)[]>([]);
  useEffect(() => {
    const charts = PANELS.map((p, i) => new Chart(refs.current[i] as HTMLCanvasElement, build(p)));
    return () => charts.forEach((c) => c.destroy());
  }, []);

  return (
    <div style={{ position: 'absolute', left: 0, top: 0, width: 1230, height: 1055, background: '#fff', overflow: 'hidden' }}>
      {PANELS.map((p, i) => (
        <canvas
          key={i}
          ref={(el) => { refs.current[i] = el; }}
          width={1230}
          height={p.height}
          style={{ position: 'absolute', left: 0, top: p.top, width: 1230, height: p.height }}
        />
      ))}
      <Txt x={205} y={22} size={30} text="SSC" color={SSC_RED} family="'Liberation Serif', 'Times New Roman', serif" />
      <Txt x={385} y={33} size={20} text={DATES[0]} />
      <Txt x={842} y={33} size={20} text={DATES[1]} />
      <Txt x={28} y={127} size={20} text="Bz, By (nT)" rotate={-90} />
      <Txt x={27} y={327} size={20} text="AE (nT)" rotate={-90} />
      <Txt x={28} y={525} size={20} text="Dst (nT)" rotate={-90} />
      <Txt x={29} y={710} size={20} text="ROTI (TECU/min)" rotate={-90} />
      <Txt x={29} y={897} size={20} text="ROTI (TECU/min)" rotate={-90} />
      <Txt x={1160} y={710} size={20} text="h`F (km)" rotate={-90} />
      <Txt x={1160} y={897} size={20} text="h`F (km)" rotate={-90} />
      <Txt x={1151} y={126} size={22} text="(a)" />
      <Txt x={1151} y={307} size={22} text="(b)" />
      <Txt x={1151} y={491} size={22} text="(c)" />
      <Txt x={1210} y={675} size={22} text="(d)" />
      <Txt x={1210} y={857} size={22} text="(e)" />
      <Txt x={153} y={663} size={22} text="SALU (LT = UT- 3)" left />
      <Txt x={183} y={847} size={22} text="JICA (LT = UT- 5)" left />
    </div>
  );
}
